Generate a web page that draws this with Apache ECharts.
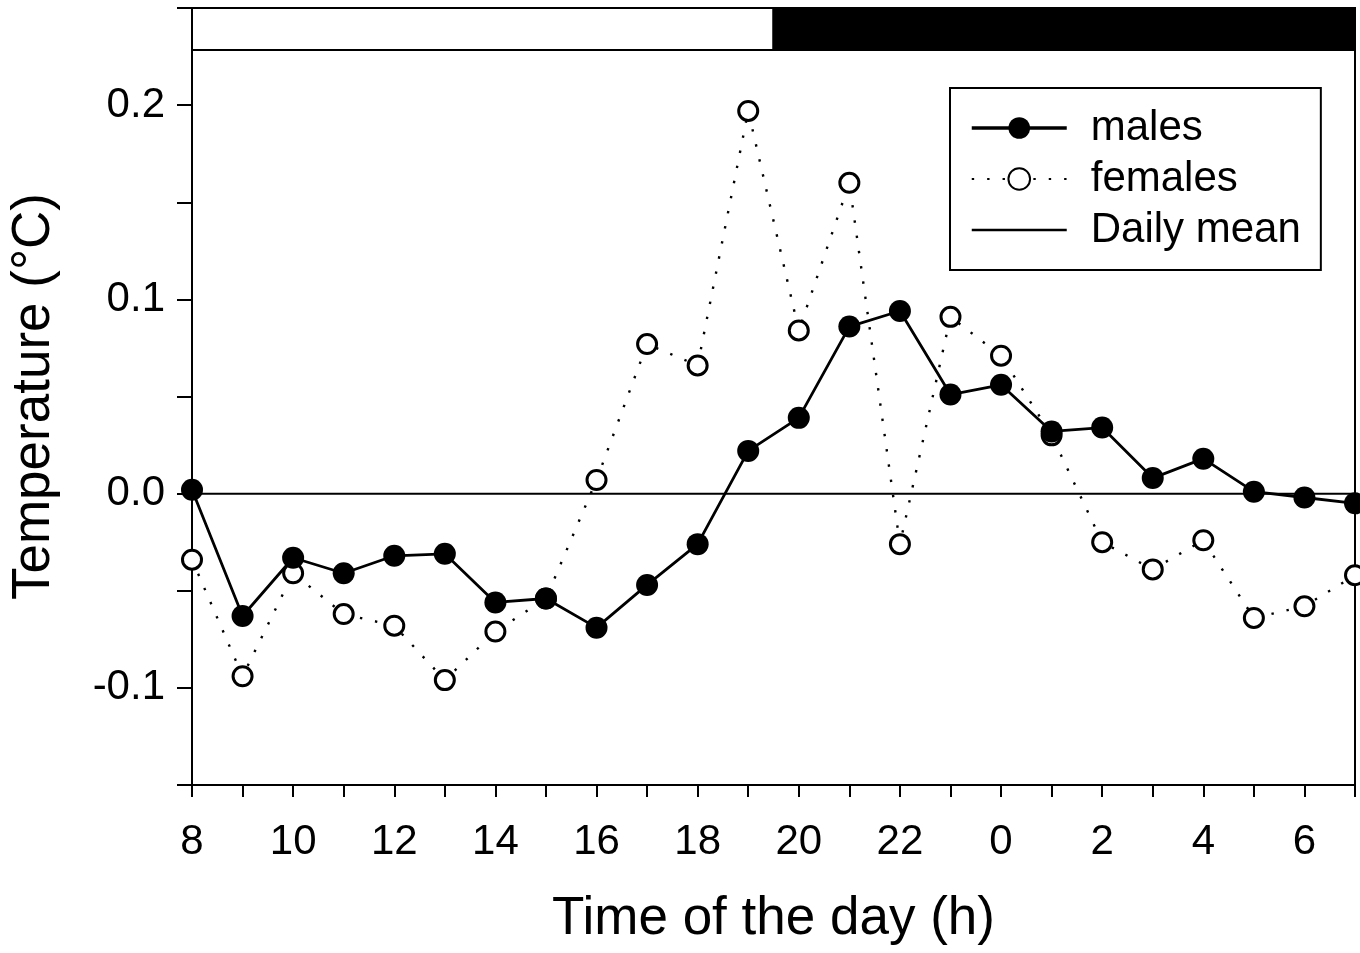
<!DOCTYPE html>
<html>
<head>
<meta charset="utf-8">
<script src="https://cdn.jsdelivr.net/npm/echarts@6/dist/echarts.min.js"></script>
<style>
  html, body { margin: 0; padding: 0; background: #fff; }
  #chart { width: 1360px; height: 953px; }
</style>
</head>
<body>
<div id="chart"></div>
<script>
// hour of the day for each sample, starting at 8 h
const hours = [8, 9, 10, 11, 12, 13, 14, 15, 16, 17, 18, 19, 20, 21, 22, 23, 0, 1, 2, 3, 4, 5, 6, 7];
const males = [0.002, -0.063, -0.033, -0.041, -0.032, -0.031, -0.056, -0.054, -0.069, -0.047, -0.026, 0.022,
  0.039, 0.086, 0.094, 0.051, 0.056, 0.032, 0.034, 0.008, 0.018, 0.001, -0.002, -0.005];
const females = [-0.034, -0.094, -0.041, -0.062, -0.068, -0.096, -0.071, -0.054, 0.007, 0.077, 0.066, 0.197,
  0.084, 0.160, -0.026, 0.091, 0.071, 0.030, -0.025, -0.039, -0.024, -0.064, -0.058, -0.042];
const dailyMean = [[0, 0], [23, 0]];
// light / dark phases (index on the time axis) and the band they occupy on the y axis
const lightPhase = [0, 11.5];
const darkPhase = [11.5, 23];
const phaseBand = [0.2284, 0.25];

const chart = echarts.init(document.getElementById("chart"));
const font = "Liberation Sans, Arial, sans-serif";

option = {
  backgroundColor: "#fff",
  animation: false,
  grid: {
    left: 192,
    right: 5,
    top: 8,
    bottom: 168,
    outerBoundsMode: "none",
    containLabel: false,
    show: true,
    borderColor: "#000",
    borderWidth: 2,
    backgroundColor: "transparent",
  },
  legend: {
    orient: "vertical",
    left: 950,
    top: 88,
    padding: [19, 20, 19, 20],
    itemGap: 9,
    itemWidth: 95,
    itemHeight: 27,
    borderColor: "#000",
    borderWidth: 2,
    borderRadius: 0,
    backgroundColor: "#fff",
    textStyle: {
      fontFamily: font,
      fontSize: 42,
      color: "#000",
      padding: [0, 0, 0, 19],
    },
    data: [
      { name: "males", lineStyle: { width: 3.5 } },
      { name: "females" },
      { name: "Daily mean", icon: "path://M0,0H100V2.4H0Z" },
    ],
  },
  xAxis: {
    type: "value",
    min: 0,
    max: 23,
    interval: 1,
    name: "Time of the day (h)",
    nameLocation: "middle",
    nameGap: 108,
    nameTextStyle: { fontFamily: font, fontSize: 53, color: "#000" },
    axisLine: { onZero: false, lineStyle: { color: "#000", width: 2 } },
    axisTick: { show: true, length: 12, lineStyle: { color: "#000", width: 2 } },
    splitLine: { show: false },
    axisLabel: {
      fontFamily: font,
      fontSize: 42,
      color: "#000",
      margin: 36,
      formatter: function (v) {
        return v % 2 === 0 && v < 23 ? String(hours[v]) : "";
      },
    },
  },
  yAxis: {
    type: "value",
    min: -0.15,
    max: 0.25,
    interval: 0.05,
    name: "Temperature (°C)",
    nameLocation: "middle",
    nameGap: 131,
    nameTextStyle: { fontFamily: font, fontSize: 53, color: "#000" },
    axisLine: { show: true, onZero: false, lineStyle: { color: "#000", width: 2 } },
    axisTick: { show: true, length: 15, lineStyle: { color: "#000", width: 2 } },
    splitLine: { show: false },
    axisLabel: {
      fontFamily: font,
      fontSize: 42,
      color: "#000",
      margin: 27,
      formatter: function (v) {
        const k = Math.round(v * 100);
        if (k % 10 !== 0 || k < -10 || k > 20) return "";
        return (k / 100).toFixed(1);
      },
    },
  },
  series: [
    {
      name: "Daily mean",
      type: "line",
      data: dailyMean,
      symbol: "none",
      silent: true,
      z: 1,
      lineStyle: { color: "#000", width: 2 },
      itemStyle: { color: "#000" },
      markArea: {
        silent: true,
        data: [
          [
            { xAxis: lightPhase[0], yAxis: phaseBand[0], itemStyle: { color: "#fff", borderColor: "#000", borderWidth: 2 } },
            { xAxis: lightPhase[1], yAxis: phaseBand[1] },
          ],
          [
            { xAxis: darkPhase[0], yAxis: phaseBand[0], itemStyle: { color: "#000", borderColor: "#000", borderWidth: 2 } },
            { xAxis: darkPhase[1], yAxis: phaseBand[1] },
          ],
        ],
      },
    },
    {
      name: "females",
      type: "line",
      data: females.map((v, i) => [i, v]),
      symbol: "circle",
      symbolSize: 19,
      z: 3,
      lineStyle: { color: "#000", width: 2.4, type: [2.4, 13] },
      itemStyle: { color: "#fff", borderColor: "#000", borderWidth: 3 },
    },
    {
      name: "males",
      type: "line",
      data: males.map((v, i) => [i, v]),
      symbol: "circle",
      symbolSize: 22,
      z: 4,
      lineStyle: { color: "#000", width: 2.8 },
      itemStyle: { color: "#000" },
    },
  ],
};

chart.setOption(option);
</script>
</body>
</html>
